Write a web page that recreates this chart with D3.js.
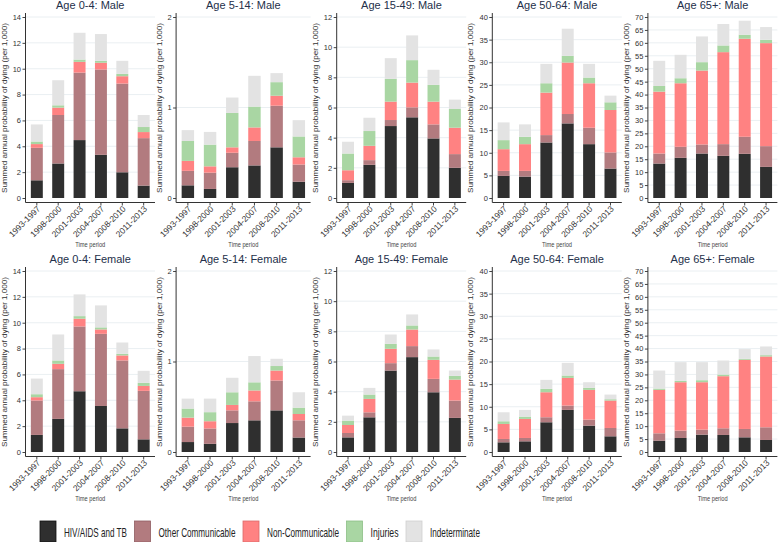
<!DOCTYPE html>
<html>
<head>
<meta charset="utf-8">
<script src="https://cdn.jsdelivr.net/npm/d3@7"></script>
<style>
body { margin: 0; background: #fff; }
text { font-family: "Liberation Sans", Arial, sans-serif; }
</style>
</head>
<body>
<div id="chart"></div>
<script>
var periods = ["1993-1997", "1998-2000", "2001-2003", "2004-2007", "2008-2010", "2011-2013"];
var causes = ["HIV/AIDS and TB", "Other Communicable", "Non-Communicable", "Injuries", "Indeterminate"];
var ageGroups = ["0-4", "5-14", "15-49", "50-64", "65+"];
var sexes = ["Male", "Female"];
var yMax = [14, 2, 12, 40, 70];
var yStep = [2, 1, 2, 5, 5];

// one row per cause (same order as causes), one value per period
var male_0_4 = [
  [1.37, 2.67, 4.48, 3.34, 1.99, 0.96],
  [2.51, 3.75, 5.22, 6.60, 6.86, 3.67],
  [0.29, 0.57, 0.83, 0.52, 0.57, 0.47],
  [0.20, 0.18, 0.18, 0.15, 0.18, 0.39],
  [1.32, 1.94, 2.07, 2.07, 1.01, 0.93]
];
var male_5_14 = [
  [0.14, 0.10, 0.34, 0.36, 0.56, 0.18],
  [0.16, 0.18, 0.16, 0.27, 0.46, 0.19],
  [0.11, 0.07, 0.06, 0.15, 0.11, 0.08],
  [0.22, 0.24, 0.38, 0.23, 0.15, 0.23],
  [0.12, 0.14, 0.17, 0.34, 0.10, 0.18]
];
var male_15_49 = [
  [1.00, 2.20, 4.77, 5.35, 3.95, 2.00],
  [0.18, 0.31, 0.40, 0.66, 0.93, 0.91],
  [0.66, 0.95, 1.22, 1.64, 1.51, 1.75],
  [1.11, 0.98, 1.51, 1.49, 1.11, 1.24],
  [0.78, 0.88, 1.37, 1.64, 1.00, 0.62]
];
var male_50_64 = [
  [4.88, 4.73, 12.27, 16.49, 11.90, 6.51],
  [1.11, 1.26, 1.63, 2.07, 3.63, 3.55],
  [4.80, 5.91, 9.39, 11.38, 9.83, 9.39],
  [2.00, 1.63, 2.07, 1.48, 1.26, 1.70],
  [3.92, 2.74, 4.29, 5.99, 3.03, 1.47]
];
var male_65 = [
  [13.33, 15.53, 17.21, 16.30, 17.08, 12.03],
  [3.88, 4.27, 3.49, 4.53, 6.60, 8.02],
  [23.93, 24.58, 28.59, 35.58, 37.91, 39.85],
  [2.20, 1.94, 3.24, 2.59, 1.55, 1.30],
  [9.71, 9.06, 9.96, 8.28, 5.43, 4.91]
];
var female_0_4 = [
  [1.32, 2.56, 4.70, 3.56, 1.83, 0.98],
  [2.66, 3.85, 5.01, 5.58, 5.25, 3.75],
  [0.26, 0.41, 0.60, 0.34, 0.39, 0.38],
  [0.23, 0.26, 0.20, 0.16, 0.12, 0.24],
  [1.21, 2.01, 1.68, 1.70, 0.88, 0.93]
];
var female_5_14 = [
  [0.11, 0.09, 0.32, 0.35, 0.46, 0.16],
  [0.17, 0.17, 0.14, 0.21, 0.33, 0.19],
  [0.10, 0.08, 0.06, 0.12, 0.11, 0.07],
  [0.10, 0.10, 0.14, 0.09, 0.05, 0.07],
  [0.11, 0.15, 0.16, 0.29, 0.08, 0.17]
];
var female_15_49 = [
  [0.97, 2.30, 5.40, 6.29, 3.96, 2.26],
  [0.29, 0.33, 0.49, 0.73, 0.89, 1.15],
  [0.53, 0.89, 0.95, 1.10, 1.26, 1.39],
  [0.29, 0.29, 0.33, 0.27, 0.22, 0.25],
  [0.33, 0.44, 0.62, 0.73, 0.47, 0.35]
];
var female_50_64 = [
  [2.14, 2.36, 6.57, 9.30, 5.83, 3.47],
  [0.74, 0.74, 1.11, 0.96, 1.33, 1.84],
  [3.32, 4.21, 5.53, 6.12, 6.57, 6.06],
  [0.59, 0.51, 0.74, 0.52, 0.44, 0.29],
  [1.99, 1.48, 1.99, 2.80, 1.25, 1.03]
];
var female_65 = [
  [4.39, 5.42, 6.72, 6.59, 5.68, 4.65],
  [2.84, 2.85, 1.93, 2.58, 3.23, 4.91],
  [16.79, 18.72, 18.34, 20.15, 26.74, 27.38],
  [0.52, 0.52, 0.78, 0.64, 0.38, 0.51],
  [6.97, 7.23, 6.97, 5.43, 3.75, 3.36]
];

var panelData = {
  Male: [male_0_4, male_5_14, male_15_49, male_50_64, male_65],
  Female: [female_0_4, female_5_14, female_15_49, female_50_64, female_65]
};

var colors = ["#2f2f2f", "#b27b7f", "#ff8282", "#a9d6a3", "#e3e3e3"];
var strokes = ["#111111", "#8e5d61", "#d96a6a", "#8cbf86", "#cfcfcf"];

var W = 778, H = 542, cellW = W / 5, rowH = 254;

var svg = d3.select("#chart").append("svg")
  .attr("width", W)
  .attr("height", H);

sexes.forEach(function(sex, r) {
  ageGroups.forEach(function(age, c) {
    var vals = panelData[sex][c];
    var top = r * rowH;
    var cellX = c * cellW;
    var left = cellX + (yMax[c] >= 10 ? 25.5 : 20.5);
    var right = cellX + 155;

    var x = d3.scaleBand().domain(periods).range([left, right])
      .paddingInner(0.44).paddingOuter(0.25);
    var y = d3.scaleLinear().domain([0, yMax[c]]).range([top + 198, top + 17]);
    var ticks = d3.range(0, yMax[c] + 0.001, yStep[c]);

    var g = svg.append("g");

    // gridlines
    g.selectAll(".grid").data(ticks.slice(1)).enter().append("line")
      .attr("x1", left).attr("x2", right)
      .attr("y1", function(d) { return y(d); })
      .attr("y2", function(d) { return y(d); })
      .attr("stroke", "#e4ebef")
      .attr("stroke-width", 0.8);

    // stacked bars
    var rows = periods.map(function(p, i) {
      var o = { period: p };
      causes.forEach(function(k, j) { o[k] = vals[j][i]; });
      return o;
    });
    var series = d3.stack().keys(causes)(rows);

    g.selectAll(".layer").data(series).enter().append("g")
      .attr("fill", function(d, i) { return colors[i]; })
      .selectAll("rect").data(function(d) { return d; }).enter().append("rect")
      .attr("x", function(d) { return x(d.data.period); })
      .attr("width", x.bandwidth())
      .attr("y", function(d) { return y(d[1]); })
      .attr("height", function(d) { return y(d[0]) - y(d[1]); });

    // y axis
    var ya = g.append("g").attr("transform", "translate(" + left + ",0)")
      .call(d3.axisLeft(y).tickValues(ticks).tickSize(3).tickPadding(1.5).tickFormat(d3.format("d")));
    ya.select(".domain").remove();
    ya.selectAll("line").attr("stroke", "#444");
    ya.selectAll("text").attr("font-size", "7.5px").attr("fill", "#333")
      .style("font-family", "'Liberation Sans', Arial, sans-serif");
    g.append("line")
      .attr("x1", left).attr("x2", left)
      .attr("y1", top + 13).attr("y2", top + 202.5)
      .attr("stroke", "#333").attr("stroke-width", 1);

    // x axis
    var xa = g.append("g").attr("transform", "translate(0," + (top + 202.5) + ")")
      .call(d3.axisBottom(x).tickSize(3).tickSizeOuter(0));
    xa.select(".domain").remove();
    xa.selectAll("line").attr("stroke", "#444");
    xa.selectAll("text")
      .attr("x", 0).attr("y", 0).attr("dy", "0.32em")
      .attr("text-anchor", "end")
      .attr("transform", "translate(2,5) rotate(-45)")
      .attr("font-size", "8.5px").attr("fill", "#333")
      .attr("textLength", 40).attr("lengthAdjust", "spacingAndGlyphs")
      .style("font-family", "'Liberation Sans', Arial, sans-serif");
    g.append("line")
      .attr("x1", left).attr("x2", right)
      .attr("y1", top + 202.5).attr("y2", top + 202.5)
      .attr("stroke", "#333").attr("stroke-width", 1);

    // titles
    g.append("text")
      .attr("x", (left + right) / 2).attr("y", top + 8.5)
      .attr("text-anchor", "middle")
      .attr("font-size", "11px").attr("fill", "#24304a")
      .text("Age " + age + ": " + sex);

    g.append("text")
      .attr("transform", "translate(" + (cellX + 6.5) + "," + (top + 108) + ") rotate(-90)")
      .attr("text-anchor", "middle")
      .attr("font-size", "8px").attr("fill", "#333")
      .attr("textLength", 170).attr("lengthAdjust", "spacingAndGlyphs")
      .text("Summed annual probability of dying (per 1,000)");

    g.append("text")
      .attr("x", (left + right) / 2).attr("y", top + 247)
      .attr("text-anchor", "middle")
      .attr("font-size", "8px").attr("fill", "#444")
      .attr("textLength", 30).attr("lengthAdjust", "spacingAndGlyphs")
      .text("Time period");
  });
});

// legend: narrow labels squeezed with a horizontal scale
var legendWidths = [63, 77, 72, 28, 50];
var lx = 40;
var legend = svg.append("g");
causes.forEach(function(k, i) {
  legend.append("rect")
    .attr("x", lx).attr("y", 521)
    .attr("width", 16).attr("height", 21)
    .attr("fill", colors[i])
    .attr("stroke", strokes[i]).attr("stroke-width", 0.8);
  var lab = legend.append("g")
    .attr("transform", "translate(" + (lx + 24) + ",536.5)");
  var t = lab.append("text")
    .attr("font-size", "12.5px").attr("fill", "#222")
    .text(k);
  var natural = t.node().getComputedTextLength();
  lab.attr("transform", "translate(" + (lx + 24) + ",536.5) scale(" + (legendWidths[i] / natural) + ",1)");
  lx += 24 + legendWidths[i] + 7.5;
});
</script>
</body>
</html>
